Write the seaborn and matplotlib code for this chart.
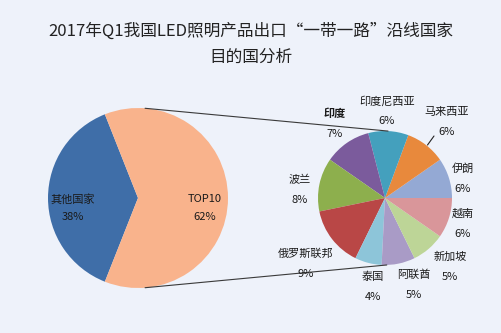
import matplotlib
matplotlib.use("Agg")
import matplotlib.pyplot as plt
import seaborn as sns
import numpy as np

# ---- data ----
title_lines = ["2017年Q1我国LED照明产品出口“一带一路”沿线国家", "目的国分析"]
overview_labels = ["其他国家", "TOP10"]
overview_values = [38, 62]
countries = ["伊朗", "马来西亚", "印度尼西亚", "印度", "波兰",
             "俄罗斯联邦", "泰国", "阿联酋", "新加坡", "越南"]
country_values = [6, 6, 6, 7, 8, 9, 4, 5, 5, 6]

# ---- style ----
overview_colors = ["#3f6ea8", "#f9b38c"]
country_colors = ["#94a9d4", "#e8893c", "#44a0bd", "#7b5b9c", "#8daf4d",
                  "#b94746", "#8dc5d9", "#a99bc6", "#bdd597", "#d9969a"]
bg = "#eef2fa"
W, H = 502, 333

sns.set_theme(style="white")
plt.rcParams["font.family"] = ["Noto Sans CJK SC", "DejaVu Sans"]

fig = plt.figure(figsize=(W / 100, H / 100), dpi=100, facecolor=bg)
ax = fig.add_axes([0, 0, 1, 1])
ax.set_facecolor(bg)


def Y(py):
    """pixel row (from top) -> data y"""
    return H - py


# pie geometry in pixel units
left_c, left_r = (138, 198), 90
right_c, right_r = (385, 198), 67

ax.pie(overview_values, colors=overview_colors, startangle=111.6,
       counterclock=True, center=(left_c[0], Y(left_c[1])), radius=left_r,
       wedgeprops=dict(linewidth=0))
ax.pie(country_values, colors=country_colors, startangle=0,
       counterclock=True, center=(right_c[0], Y(right_c[1])), radius=right_r,
       wedgeprops=dict(linewidth=0))


def on_circle(c, r, deg):
    a = np.deg2rad(deg)
    return c[0] + r * np.cos(a), Y(c[1]) + r * np.sin(a)


# connector lines between the two pies
for la, ra in [(85.5, 87.4), (-85.5, -88.5)]:
    x0, y0 = on_circle(left_c, left_r, la)
    x1, y1 = on_circle(right_c, right_r, ra)
    ax.plot([x0, x1], [y0, y1], color="#3a3a3a", lw=0.8)

txt = dict(fontsize=8, color="#1a1a1a", ha="center", va="center")

# overview labels
overview_pos = [(73, 199), (205, 199)]
for name, v, (px, py) in zip(overview_labels, overview_values, overview_pos):
    ax.text(px, Y(py), name, **txt)
    ax.text(px, Y(py + 18), f"{v}%", **txt)

# country labels
country_pos = [(463, 169), (447, 112), (387, 101), (335, 114), (300, 180),
               (306, 254), (373, 277), (414, 275), (450, 257), (463, 214)]
for name, v, (px, py) in zip(countries, country_values, country_pos):
    weight = "bold" if name == "印度" else "normal"
    ax.text(px, Y(py), name, fontweight=weight, **txt)
    ax.text(px, Y(py + 20), f"{v}%", **txt)

# short leader line for 马来西亚
ax.plot([434, 427.5], [Y(136), Y(145)], color="#222222", lw=0.8)

# title
ax.text(251, Y(31), title_lines[0], fontsize=12, color="#222222",
        ha="center", va="center")
ax.text(251, Y(57), title_lines[1], fontsize=12, color="#222222",
        ha="center", va="center")

ax.set_xlim(0, W)
ax.set_ylim(0, H)
ax.set_aspect("auto")
ax.axis("off")

fig.savefig("out.png", dpi=100, facecolor=bg)
